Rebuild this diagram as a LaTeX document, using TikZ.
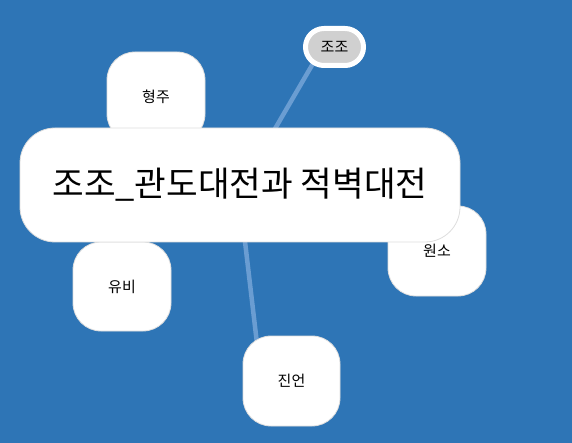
\documentclass[tikz,border=0pt]{standalone}
\usepackage{fontspec}
\setmainfont{Noto Sans CJK KR}
\definecolor{bgc}{HTML}{2E75B6}
\definecolor{edgec}{HTML}{6A9DD2}
\definecolor{bordc}{HTML}{DDDDDD}
\definecolor{pillc}{HTML}{D0D0D0}
\pgfdeclarelayer{bglayer}
\pgfdeclarelayer{edgelayer}
\pgfsetlayers{bglayer,edgelayer,main}
\tikzset{
  topic/.style={draw=bordc, line width=0.8pt, fill=white, rounded corners=28pt,
    inner sep=0pt, outer sep=0pt, minimum width=98pt, minimum height=90pt,
    font=\fontsize{15}{18}\selectfont, text=black},
  central/.style={draw=bordc, line width=0.8pt, fill=white, rounded corners=35pt,
    inner sep=0pt, outer sep=0pt, minimum width=440pt, minimum height=114pt,
    font=\fontsize{34.4}{40}\selectfont, text=black},
  pillnode/.style={draw=white, line width=5pt, fill=pillc, rounded corners=18.5pt,
    inner sep=0pt, outer sep=0pt, minimum width=58pt, minimum height=37pt,
    font=\fontsize{15}{18}\selectfont, text=black},
  link/.style={draw=edgec, line width=4.5pt}
}
\begin{document}
\begin{tikzpicture}[x=1pt,y=-1pt]
\begin{pgfonlayer}{bglayer}
\fill[bgc] (0,0) rectangle (572,443);
\end{pgfonlayer}
\useasboundingbox (0,0) rectangle (572,443);
\node[topic] (hj) at (156,97) {형주};
\node[topic] (ws) at (437,251) {원소};
\node[topic, minimum height=89pt] (yb) at (122,286.5) {유비};
\node[topic, minimum width=97pt] (je) at (291.5,381) {진언};
\node[pillnode] (jj) at (334.5,47) {조조};
\node[central] (c) at (240,185) {조조\_관도대전과 적벽대전};
\coordinate (cpos) at (239,190.6);
\coordinate (jjpos) at (322.6,47);
\coordinate (jepos) at (261.4,381);
\begin{pgfonlayer}{edgelayer}
\draw[link] (cpos) -- (jjpos);
\draw[link] (cpos) -- (jepos);
\end{pgfonlayer}
\end{tikzpicture}
\end{document}
